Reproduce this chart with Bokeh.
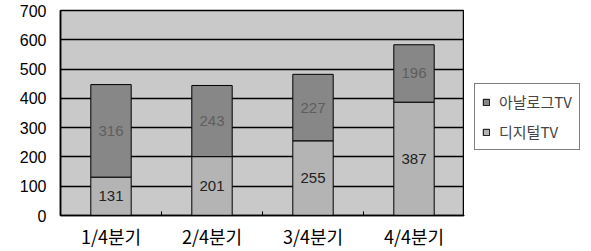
from bokeh.plotting import figure
from bokeh.layouts import row
from bokeh.models import ColumnDataSource, Legend, LegendItem, LabelSet, FixedTicker, Range1d
from bokeh.embed import file_html
from bokeh.resources import INLINE
from bokeh.core.properties import value

quarters = ["1/4분기", "2/4분기", "3/4분기", "4/4분기"]
digital = [131, 201, 255, 387]
analog = [316, 243, 227, 196]
y_ticks = [0, 100, 200, 300, 400, 500, 600, 700]
series_names = ["아날로그TV", "디지털TV"]
colors = {"analog": "#878787", "digital": "#b4b4b4"}

FONT = "Noto Sans CJK KR"
NUM_FONT = "Liberation Sans"

src = ColumnDataSource(dict(
    q=quarters,
    digital=digital,
    analog=analog,
    d_mid=[d / 2 for d in digital],
    a_mid=[d + a / 2 for d, a in zip(digital, analog)],
    d_txt=[str(v) for v in digital],
    a_txt=[str(v) for v in analog],
))

p = figure(x_range=quarters, y_range=Range1d(0, 700),
           width=464, height=251,
           output_backend="svg", toolbar_location=None,
           min_border_left=60, min_border_top=10, min_border_bottom=36, min_border_right=0)

p.background_fill_color = "#c9c9c9"
p.border_fill_color = "white"
p.outline_line_color = "black"
p.outline_line_width = 1.5

p.xgrid.grid_line_color = None
p.ygrid.grid_line_color = "black"
p.ygrid.grid_line_width = 1.5
p.ygrid.ticker = FixedTicker(ticks=y_ticks)

r = p.vbar_stack(["digital", "analog"], x="q", width=0.4, source=src,
                 color=[colors["digital"], colors["analog"]], line_color="black", line_width=1)

# small category separator ticks on the x axis
bounds = list(range(1, len(quarters)))
p.segment(x0=bounds, y0=[0] * len(bounds), x1=bounds, y1=[14] * len(bounds),
          line_color="black", line_width=1)

p.add_layout(LabelSet(x="q", y="d_mid", text="d_txt", source=src, text_align="center",
                      text_baseline="middle", text_font=value(NUM_FONT), text_font_size="15px",
                      text_color="#222222"))
p.add_layout(LabelSet(x="q", y="a_mid", text="a_txt", source=src, text_align="center",
                      text_baseline="middle", text_font=value(NUM_FONT), text_font_size="15px",
                      text_color="#5e5e5e"))

p.yaxis.ticker = FixedTicker(ticks=y_ticks)
p.yaxis.major_label_text_font = NUM_FONT
p.yaxis.major_label_text_font_size = "16px"
p.yaxis.major_label_text_color = "black"
p.yaxis.major_tick_line_color = None
p.yaxis.minor_tick_line_color = None
p.yaxis.axis_line_color = "black"
p.yaxis.axis_line_width = 1.5
p.yaxis.major_label_standoff = 8

p.xaxis.major_label_text_font = FONT
p.xaxis.major_label_text_font_size = "18px"
p.xaxis.major_label_text_color = "black"
p.xaxis.major_tick_line_color = None
p.xaxis.axis_line_color = "black"
p.xaxis.axis_line_width = 1.5
p.xaxis.major_label_standoff = 1

# legend panel as a separate small figure
lg = figure(width=127, height=251, x_range=Range1d(0, 1), y_range=Range1d(0, 1),
            output_backend="svg", toolbar_location=None,
            min_border=0, min_border_left=0, min_border_right=0,
            min_border_top=0, min_border_bottom=0)
lg.axis.visible = False
lg.grid.visible = False
lg.outline_line_color = None
lg.background_fill_color = "white"
lg.border_fill_color = "white"
# proxy renderers (kept outside the visible range) that only feed the legend swatches
ra = lg.vbar(x=[-5], top=[-5], width=1, color=colors["analog"], line_color="black")
rd = lg.vbar(x=[-5], top=[-5], width=1, color=colors["digital"], line_color="black")

legend = Legend(items=[LegendItem(label=series_names[0], renderers=[ra]),
                       LegendItem(label=series_names[1], renderers=[rd])],
                location=(10, 65), margin=0, padding=7, spacing=9,
                glyph_width=8, glyph_height=8, label_standoff=9,
                label_text_font=FONT, label_text_font_size="15px",
                border_line_color="black", border_line_width=1.5,
                background_fill_color="white")
lg.add_layout(legend, "center")

layout = row(p, lg)
open("out.html", "w").write(file_html(layout, INLINE))
